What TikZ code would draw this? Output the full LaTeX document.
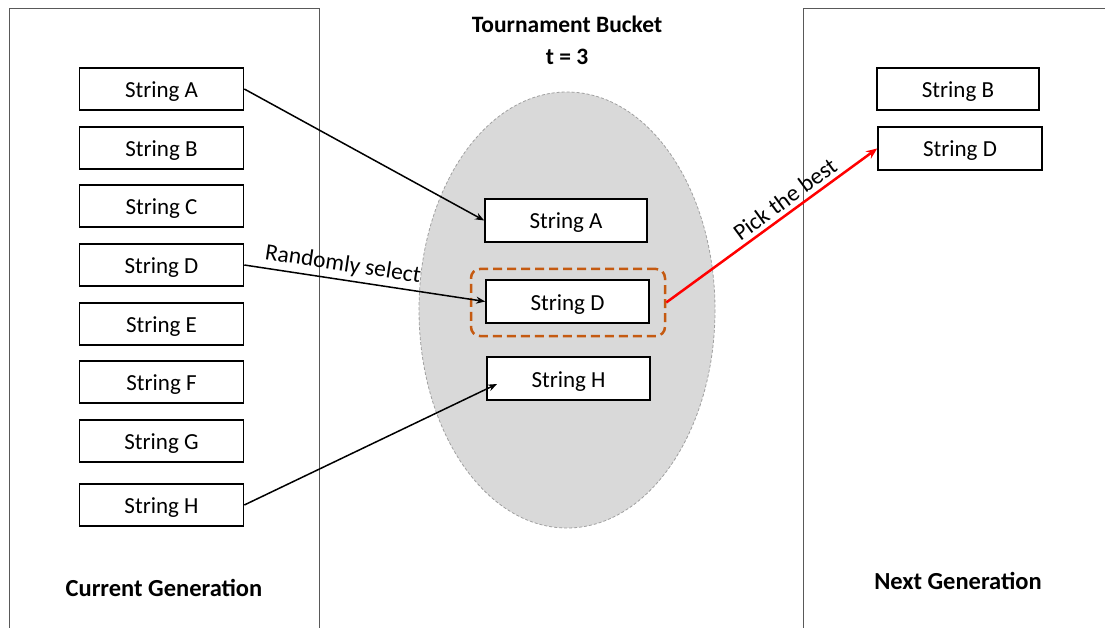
\documentclass[tikz,border=0pt]{standalone}
\usepackage{fontspec}
\setmainfont{Carlito}
\usetikzlibrary{arrows.meta}
\definecolor{bucketgray}{HTML}{D9D9D9}
\definecolor{bucketedge}{HTML}{A0A0A0}
\definecolor{pickorange}{HTML}{C55A11}
\tikzset{
  strbox/.style={draw=black, line width=1.6pt, fill=white, minimum width=164pt, minimum height=42pt,
    inner sep=0pt, text height=19pt, text depth=2pt, font=\fontsize{23}{26}\selectfont},
  panel/.style={draw=black!65, line width=1pt},
  heading/.style={font=\fontsize{24.5}{28}\selectfont\bfseries},
  link/.style={draw=black, line width=1.5pt, -{Stealth[length=9pt,width=7pt]}},
  best/.style={draw=red, line width=2.5pt, -{Stealth[length=11pt,width=9pt]}},
  lbl/.style={font=\fontsize{23.5}{26}\selectfont, inner sep=4pt}
}
\begin{document}
\begin{tikzpicture}[x=1pt,y=-1pt]
  \useasboundingbox (0,0) rectangle (1105,628);
  % side panels, open at the bottom
  \draw[panel] (9,640) -- (9,9) -- (319,9) -- (319,640);
  \draw[panel] (803,640) -- (803,9) -- (1110,9);

  % tournament bucket
  \fill[bucketgray] (567,310) ellipse [x radius=148, y radius=218];
  \draw[bucketedge, line width=0.8pt, dash pattern=on 3pt off 2pt] (567,310) ellipse [x radius=148, y radius=218];
  \node[heading, font=\fontsize{23.5}{28}\selectfont\bfseries] (title) at (567,24) {Tournament Bucket};
  \node[heading, font=\fontsize{23.5}{28}\selectfont\bfseries] (tsize) at (567,57) {t = 3};

  % current generation
  \node[strbox] (cA) at (161.5,89)  {String A};
  \node[strbox] (cB) at (161.5,148) {String B};
  \node[strbox] (cC) at (161.5,206) {String C};
  \node[strbox] (cD) at (161.5,265) {String D};
  \node[strbox] (cE) at (161.5,324) {String E};
  \node[strbox] (cF) at (161.5,382) {String F};
  \node[strbox] (cG) at (161.5,441) {String G};
  \node[strbox] (cH) at (161.5,505) {String H};
  \node[heading] (cur) at (164,588) {Current Generation};

  % bucket members
  \node[strbox, minimum width=162pt, minimum height=43pt] (mA) at (566,220.5) {String A};
  \node[strbox, minimum width=163pt, minimum height=43pt] (mD) at (567.5,301.5) {String D};
  \node[strbox, minimum width=163pt, minimum height=43pt] (mH) at (568.5,378.5) {String H};
  \node[draw=pickorange, line width=2.5pt, dash pattern=on 9pt off 5pt, rounded corners=9pt,
        minimum width=194pt, minimum height=67pt] (win) at (568,302.5) {};

  % next generation
  \node[strbox, minimum width=162pt] (nB) at (958,89)  {String B};
  \node[strbox, minimum width=164pt, minimum height=43pt] (nD) at (960,148.5) {String D};
  \node[heading] (nxt) at (958,581) {Next Generation};

  % connectors
  \coordinate (hEnd) at (497,384);
  \draw[link] (cA.east) -- (mA.west);
  \draw[link] (cD.east) -- node[lbl, sloped, above, pos=0.40] {Randomly select} (mD.west);
  \draw[link] (cH.east) -- (hEnd);
  \draw[best] (win.east) -- node[lbl, sloped, above, pos=0.60] {Pick the best} (nD.west);
\end{tikzpicture}
\end{document}
